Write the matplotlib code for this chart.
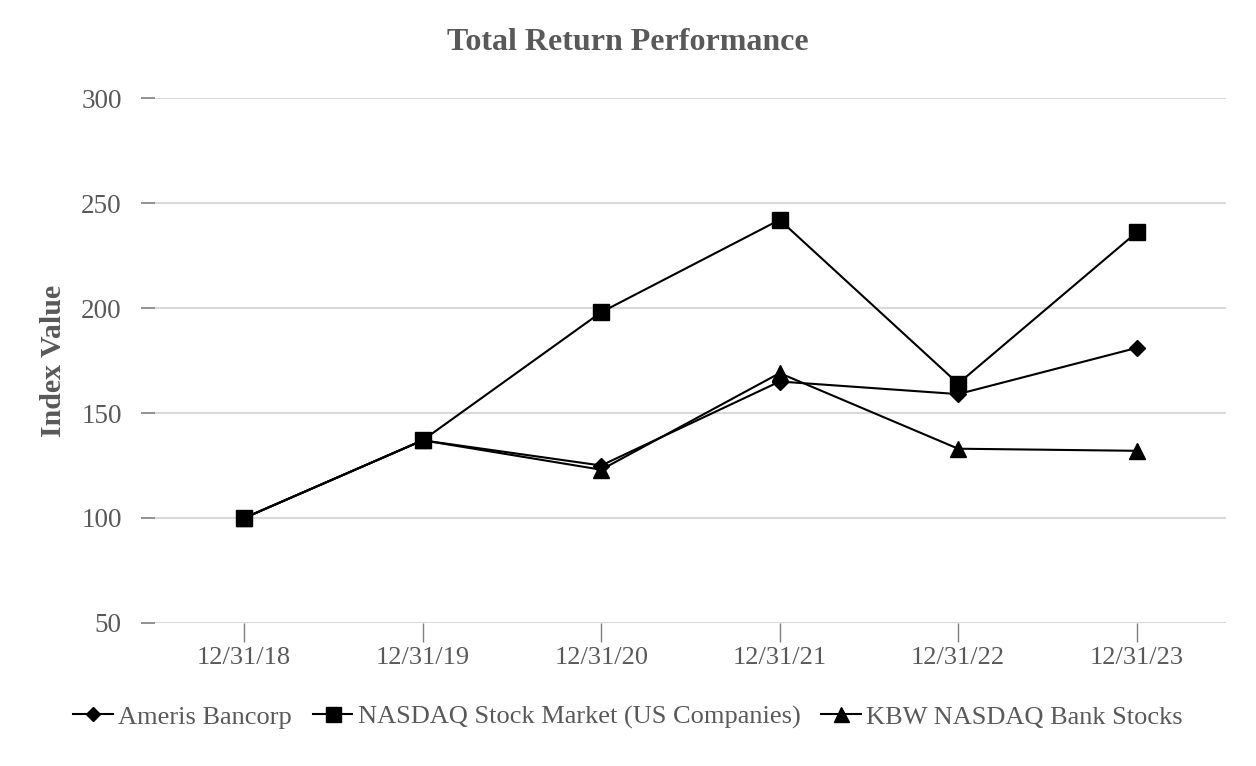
import numpy as np
import matplotlib.pyplot as plt

dates = ["12/31/18", "12/31/19", "12/31/20", "12/31/21", "12/31/22", "12/31/23"]
ameris = [100, 137, 125, 165, 159, 181]
nasdaq = [100, 137, 198, 242, 164, 236]
kbw = [100, 137, 123, 169, 133, 132]

TEXT_GRAY = "#595959"
GRID_GRAY = "#d9d9d9"

plt.rcParams["font.family"] = ["Liberation Serif", "DejaVu Serif"]

fig = plt.figure(figsize=(12.56, 7.66), dpi=100)
ax = fig.add_axes([0.1234, 0.1867, 0.8526, 0.6853])

x = np.arange(len(dates))
ax.plot(x, ameris, color="black", lw=1.5, marker="D", ms=8, clip_on=False,
        label="Ameris Bancorp", zorder=3)
ax.plot(x, nasdaq, color="black", lw=1.5, marker="s", ms=12, clip_on=False,
        label="NASDAQ Stock Market (US Companies)", zorder=3)
ax.plot(x, kbw, color="black", lw=1.5, marker="^", ms=12, clip_on=False,
        label="KBW NASDAQ Bank Stocks", zorder=3)

ax.set_xlim(-0.5, len(dates) - 0.5)
ax.set_ylim(50, 300)
ax.set_yticks([50, 100, 150, 200, 250, 300])
ax.set_xticks(x)
ax.set_xticklabels(dates)

ax.grid(axis="y", color=GRID_GRAY, lw=1.5)
ax.set_axisbelow(True)
for s in ax.spines.values():
    s.set_visible(False)

ax.tick_params(axis="y", colors="#7f7f7f", labelcolor=TEXT_GRAY, labelsize=19.5,
               length=10, width=1.2, pad=14)
ax.tick_params(axis="x", colors="#7f7f7f", labelcolor=TEXT_GRAY, labelsize=19,
               length=14, width=1.0, pad=3)

ax.set_ylabel("Index Value", fontsize=21.5, fontweight="bold", color=TEXT_GRAY, labelpad=10)
fig.text(0.5, 0.944, "Total Return Performance", fontsize=23, fontweight="bold",
         color=TEXT_GRAY, ha="center", va="center")

leg = fig.legend(loc="center", bbox_to_anchor=(0.5, 0.064), ncol=3, frameon=False,
                 fontsize=19, handlelength=1.5, handletextpad=0.2, columnspacing=0.8,
                 markerscale=0.9)
for t in leg.get_texts():
    t.set_color(TEXT_GRAY)

fig.savefig("out.png", dpi=100)
